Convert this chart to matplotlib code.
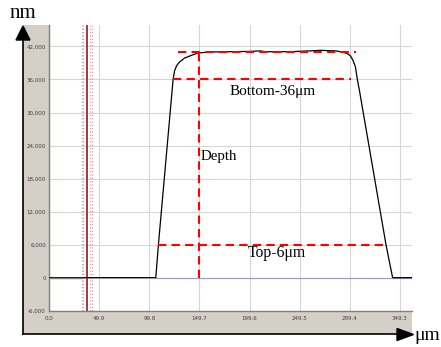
import matplotlib
matplotlib.use("Agg")
import matplotlib.pyplot as plt
from matplotlib.patches import Rectangle, Polygon
from matplotlib.lines import Line2D

# profile (um, nm)
profile_x = [0, 106.3, 108.9, 123.5, 125.0, 127.0, 130.0, 135.0, 142.0, 148.0,
             160.0, 180.0, 200.0, 210.0, 215.0, 240.0, 260.0, 270.0, 285.0,
             292.0, 297.0, 300.0, 302.5, 305.0, 306.9, 308.9, 335.4, 342.0, 361.0]
profile_y = [0, 0, 6000, 36000, 37600, 38500, 39200, 39900, 40400, 40800,
             41000, 41050, 41100, 41200, 41050, 41050, 41200, 41300, 41200,
             41000, 40700, 40300, 39500, 38300, 36000, 34100, 6000, 0, 0]

# cursor lines near 40 um
cursor_dotted = [32.8, 34.3, 41.2, 42.7]
cursor_solid = 38.2

# measurement guides
top_level = 41000
top_span = (128.4, 305.6)
bottom_level = 36000
bottom_span = (123.5, 300.6)
lower_level = 6000
lower_span = (108.7, 335.4)
depth_x = 149.7

xticks = [0.0, 49.9, 99.8, 149.7, 199.6, 249.5, 299.4, 349.3]
yticks = [-6000, 0, 6000, 12000, 18000, 24000, 30000, 36000, 42000]

W, H = 441, 347


def fx(px):
    return px / W


def fy(py):
    return 1 - py / H


fig = plt.figure(figsize=(W / 100, H / 100), dpi=100)

# grey instrument panel behind the plot
fig.patches.append(Rectangle((fx(23), fy(334)), fx(411.7) - fx(23), fy(25) - fy(334),
                             transform=fig.transFigure, facecolor="#d4d0c8",
                             edgecolor="none", zorder=-5))

ax = fig.add_axes([fx(49), fy(310.7), fx(411.7) - fx(49), fy(25) - fy(310.7)])
ax.set_zorder(1)
ax.set_facecolor("white")
ax.set_xlim(0, 361)
ax.set_ylim(-6000, 45900)
ax.set_xticks(xticks)
ax.set_xticklabels([f"{v:.1f}" for v in xticks])
ax.set_yticks(yticks)
ax.set_yticklabels([f"{v:,}" for v in yticks])
ax.tick_params(length=0, labelsize=4, colors="#404040")
ax.tick_params(axis="x", pad=3.6)
ax.tick_params(axis="y", pad=2.2)
ax.grid(color="#d6d6d6", lw=0.8)
ax.set_axisbelow(True)
for s in ["top", "right"]:
    ax.spines[s].set_visible(False)
for s in ["left", "bottom"]:
    ax.spines[s].set_color("#808080")
    ax.spines[s].set_linewidth(1)

# cursors
for cx in cursor_dotted:
    ax.axvline(cx, color="#d9a0a8", lw=0.9, ls=":", zorder=2)
ax.axvline(cursor_solid, color="#9b3a44", lw=1.4, zorder=2)

# baseline and profile
ax.plot([profile_x[1], profile_x[-1]], [0, 0], color="#9a9ad0", lw=0.8, zorder=2)
ax.plot(profile_x, profile_y, color="black", lw=0.9, zorder=3)
ax.plot([0, cursor_dotted[0]], [0, 0], color="#808080", lw=1.0, zorder=3)

# red dashed guides
dash = dict(color="#ff0000", lw=1.5, ls=(0, (4, 2.5)), zorder=4)
ax.plot(top_span, [top_level, top_level], **dash)
ax.plot(bottom_span, [bottom_level, bottom_level], **dash)
ax.plot(lower_span, [lower_level, lower_level], **dash)
ax.plot([depth_x, depth_x], [0, top_level], **dash)

serif = "Liberation Serif"
ax.text(222.6, 33800, "Bottom-36μm", family=serif, fontsize=11, ha="center", va="center", zorder=5)
ax.text(226.3, 4500, "Top-6μm", family=serif, fontsize=11.3, ha="center", va="center", zorder=5)
ax.text(151.2, 22000, "Depth", family=serif, fontsize=10.7, ha="left", va="center", zorder=5)

# axis arrows on the panel
fig.add_artist(Line2D([fx(23), fx(23)], [fy(334), fy(38)], color="black", lw=1.2, zorder=3))
fig.add_artist(Line2D([fx(23), fx(398)], [fy(334), fy(334)], color="black", lw=1.2, zorder=3))
fig.add_artist(Polygon([[fx(23), fy(26)], [fx(16), fy(40)], [fx(30), fy(40)]],
                       closed=True, transform=fig.transFigure, color="black", zorder=3))
fig.add_artist(Polygon([[fx(413.5), fy(334.5)], [fx(397), fy(328.5)], [fx(397), fy(340.5)]],
                       closed=True, transform=fig.transFigure, color="black", zorder=3))
fig.text(fx(23), fy(13), "nm", family=serif, fontsize=15, ha="center", va="center")
fig.text(fx(427), fy(336), "μm", family=serif, fontsize=14, ha="center", va="center")

fig.savefig("out.png", dpi=100)
